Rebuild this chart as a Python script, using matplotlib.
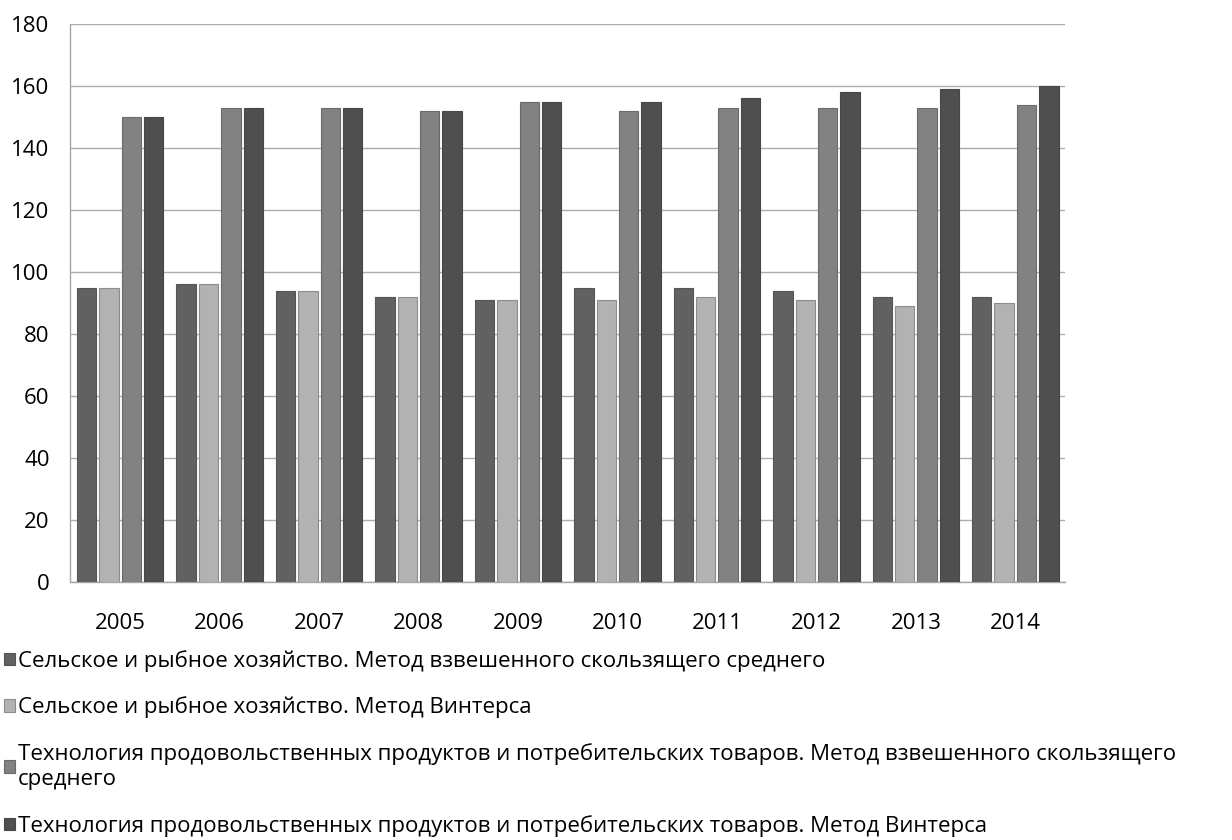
import matplotlib
matplotlib.use('Agg')
import matplotlib.pyplot as plt
import numpy as np

plt.rcParams['font.family'] = ['Open Sans', 'DejaVu Sans']

years = ['2005', '2006', '2007', '2008', '2009', '2010', '2011', '2012', '2013', '2014']

agri_wma = [95, 96, 94, 92, 91, 95, 95, 94, 92, 92]
agri_winters = [95, 96, 94, 92, 91, 91, 92, 91, 89, 90]
food_wma = [150, 153, 153, 152, 155, 152, 153, 153, 153, 154]
food_winters = [150, 153, 153, 152, 155, 155, 156, 158, 159, 160]

labels = [
    'Сельское и рыбное хозяйство. Метод взвешенного скользящего среднего',
    'Сельское и рыбное хозяйство. Метод Винтерса',
    'Технология продовольственных продуктов и потребительских товаров. Метод взвешенного скользящего\nсреднего',
    'Технология продовольственных продуктов и потребительских товаров. Метод Винтерса',
]
series = [agri_wma, agri_winters, food_wma, food_winters]
colors = ['#616161', '#b2b2b2', '#828282', '#4f4f4f']
edges = ['#555555', '#8c8c8c', '#6a6a6a', '#474747']

figure = plt.figure(figsize=(12.32, 8.4), dpi=100)
axes = figure.add_axes([0.0572, 0.3071, 0.8073, 0.6643])

x = np.arange(len(years))
step = 0.225
width = 0.195
handles = []
for i, values in enumerate(series):
    bars = axes.bar(x + (i - 1.5) * step, values, width=width, color=colors[i],
                    edgecolor=edges[i], linewidth=0.8, label=labels[i], zorder=3)
    handles.append(bars)

axes.set_xlim(-0.5, 9.5)
axes.set_ylim(0, 180)
axes.set_yticks(np.arange(0, 181, 20))
axes.set_xticks(x)
axes.set_xticklabels(years)
axes.grid(axis='y', color='#adadad', linewidth=1.0, zorder=0)
axes.set_axisbelow(True)

for side in ['top', 'right']:
    axes.spines[side].set_visible(False)
for side in ['left', 'bottom']:
    axes.spines[side].set_color('#a6a6a6')
    axes.spines[side].set_linewidth(1.0)

axes.tick_params(axis='both', length=0, labelsize=16, colors='#000000')
axes.tick_params(axis='x', pad=22)
axes.tick_params(axis='y', pad=15)

legend = figure.legend(handles=handles, labels=labels, loc='upper left',
                       bbox_to_anchor=(0.003, 0.226), frameon=False, fontsize=16,
                       handlelength=0.5, handleheight=0.5, handletextpad=0.15,
                       labelspacing=1.1, borderpad=0, borderaxespad=0)
legend.get_texts()[2].set_linespacing(1.3)

figure.savefig('out.png', dpi=100)
